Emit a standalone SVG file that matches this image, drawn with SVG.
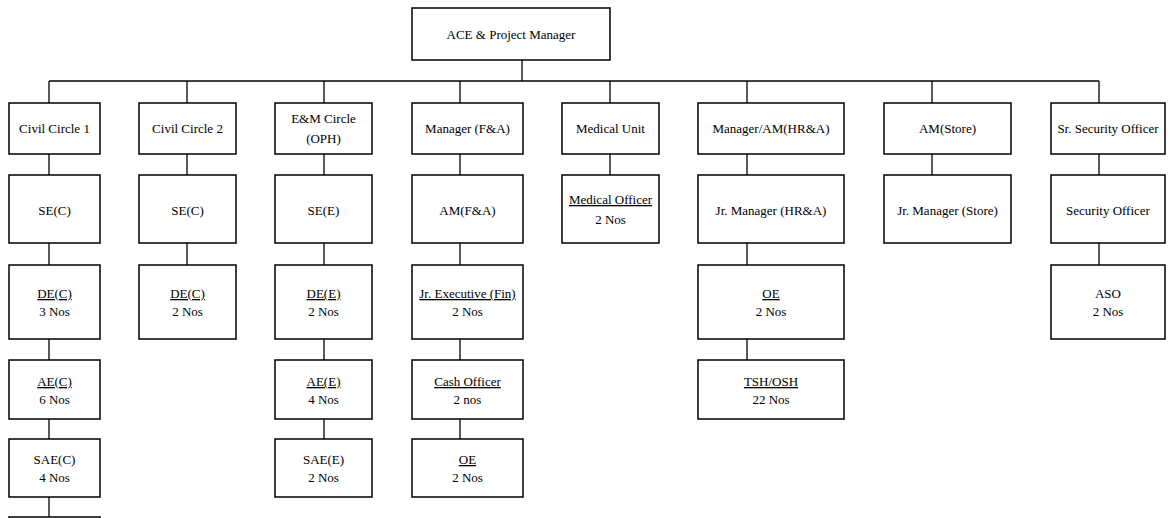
<svg xmlns="http://www.w3.org/2000/svg" width="1168" height="518" viewBox="0 0 1168 518">
<style>
rect{fill:#fff;stroke:#000;stroke-width:1.5}
#connectors line{stroke:#000;stroke-width:1.3}
text{font-family:"Liberation Serif","Times New Roman",serif;font-size:13px;fill:#000;text-anchor:middle}
.u{text-decoration:underline}
</style>
<rect x="0" y="0" width="1168" height="518" style="stroke:none"/>
<g id="connectors">
<line x1="522" y1="60" x2="522" y2="81"/>
<line x1="49" y1="81" x2="1099" y2="81"/>
<line x1="49" y1="81" x2="49" y2="103"/>
<line x1="187" y1="81" x2="187" y2="103"/>
<line x1="324" y1="81" x2="324" y2="103"/>
<line x1="460" y1="81" x2="460" y2="103"/>
<line x1="610" y1="81" x2="610" y2="103"/>
<line x1="747" y1="81" x2="747" y2="103"/>
<line x1="932" y1="81" x2="932" y2="103"/>
<line x1="1099" y1="81" x2="1099" y2="103"/>
<line x1="49" y1="154" x2="49" y2="175"/>
<line x1="187" y1="154" x2="187" y2="175"/>
<line x1="324" y1="154" x2="324" y2="175"/>
<line x1="460" y1="154" x2="460" y2="175"/>
<line x1="610" y1="154" x2="610" y2="175"/>
<line x1="747" y1="154" x2="747" y2="175"/>
<line x1="932" y1="154" x2="932" y2="175"/>
<line x1="1099" y1="154" x2="1099" y2="175"/>
<line x1="49" y1="243" x2="49" y2="265"/>
<line x1="187" y1="243" x2="187" y2="265"/>
<line x1="324" y1="243" x2="324" y2="265"/>
<line x1="460" y1="243" x2="460" y2="265"/>
<line x1="747" y1="243" x2="747" y2="265"/>
<line x1="1099" y1="243" x2="1099" y2="265"/>
<line x1="49" y1="339" x2="49" y2="360"/>
<line x1="324" y1="339" x2="324" y2="360"/>
<line x1="460" y1="339" x2="460" y2="360"/>
<line x1="747" y1="339" x2="747" y2="360"/>
<line x1="49" y1="419" x2="49" y2="439"/>
<line x1="324" y1="419" x2="324" y2="439"/>
<line x1="460" y1="419" x2="460" y2="439"/>
<line x1="49" y1="497" x2="49" y2="517"/>
</g>
<g id="ace"><rect x="412" y="8" width="198" height="52"/><text x="511" y="39">ACE &amp; Project Manager</text></g>
<g id="civil1"><rect x="9" y="103" width="91" height="51"/><text x="54.5" y="133">Civil Circle 1</text></g>
<g id="civil2"><rect x="139" y="103" width="97" height="51"/><text x="187.5" y="133">Civil Circle 2</text></g>
<g id="em"><rect x="275" y="103" width="97" height="51"/><text x="323.5" y="123">E&amp;M Circle</text><text x="323.5" y="143">(OPH)</text></g>
<g id="mgrfa"><rect x="412" y="103" width="111" height="51"/><text x="467.5" y="133">Manager (F&amp;A)</text></g>
<g id="medical"><rect x="562" y="103" width="97" height="51"/><text x="610.5" y="133">Medical Unit</text></g>
<g id="mgrhr"><rect x="698" y="103" width="146" height="51"/><text x="771" y="133">Manager/AM(HR&amp;A)</text></g>
<g id="amstore"><rect x="884" y="103" width="127" height="51"/><text x="947.5" y="133">AM(Store)</text></g>
<g id="srsec"><rect x="1051" y="103" width="114" height="51"/><text x="1108" y="133">Sr. Security Officer</text></g>
<g id="sec1"><rect x="9" y="175" width="91" height="68"/><text x="54.5" y="215">SE(C)</text></g>
<g id="sec2"><rect x="139" y="175" width="97" height="68"/><text x="187.5" y="215">SE(C)</text></g>
<g id="see"><rect x="275" y="175" width="97" height="68"/><text x="323.5" y="215">SE(E)</text></g>
<g id="amfa"><rect x="412" y="175" width="111" height="68"/><text x="467.5" y="215">AM(F&amp;A)</text></g>
<g id="medofficer"><rect x="562" y="175" width="97" height="68"/><text class="u" x="610.5" y="204">Medical Officer</text><text x="610.5" y="224">2 Nos</text></g>
<g id="jrmgrhr"><rect x="698" y="175" width="146" height="68"/><text x="771" y="215">Jr. Manager (HR&amp;A)</text></g>
<g id="jrmgrstore"><rect x="884" y="175" width="127" height="68"/><text x="947.5" y="215">Jr. Manager (Store)</text></g>
<g id="secofficer"><rect x="1051" y="175" width="114" height="68"/><text x="1108" y="215">Security Officer</text></g>
<g id="dec1"><rect x="9" y="265" width="91" height="74"/><text class="u" x="54.5" y="298">DE(C)</text><text x="54.5" y="316">3 Nos</text></g>
<g id="dec2"><rect x="139" y="265" width="97" height="74"/><text class="u" x="187.5" y="298">DE(C)</text><text x="187.5" y="316">2 Nos</text></g>
<g id="dee"><rect x="275" y="265" width="97" height="74"/><text class="u" x="323.5" y="298">DE(E)</text><text x="323.5" y="316">2 Nos</text></g>
<g id="jrexec"><rect x="412" y="265" width="111" height="74"/><text class="u" x="467.5" y="298">Jr. Executive (Fin)</text><text x="467.5" y="316">2 Nos</text></g>
<g id="oehr"><rect x="698" y="265" width="146" height="74"/><text class="u" x="771" y="298">OE</text><text x="771" y="316">2 Nos</text></g>
<g id="aso"><rect x="1051" y="265" width="114" height="74"/><text x="1108" y="298">ASO</text><text x="1108" y="316">2 Nos</text></g>
<g id="aec"><rect x="9" y="360" width="91" height="59"/><text class="u" x="54.5" y="386">AE(C)</text><text x="54.5" y="404">6 Nos</text></g>
<g id="aee"><rect x="275" y="360" width="97" height="59"/><text class="u" x="323.5" y="386">AE(E)</text><text x="323.5" y="404">4 Nos</text></g>
<g id="cash"><rect x="412" y="360" width="111" height="59"/><text class="u" x="467.5" y="386">Cash Officer</text><text x="467.5" y="404">2 nos</text></g>
<g id="tsh"><rect x="698" y="360" width="146" height="59"/><text class="u" x="771" y="386">TSH/OSH</text><text x="771" y="404">22 Nos</text></g>
<g id="saec"><rect x="9" y="439" width="91" height="58"/><text x="54.5" y="464">SAE(C)</text><text x="54.5" y="482">4 Nos</text></g>
<g id="saee"><rect x="275" y="439" width="97" height="58"/><text x="323.5" y="464">SAE(E)</text><text x="323.5" y="482">2 Nos</text></g>
<g id="oefa"><rect x="412" y="439" width="111" height="58"/><text class="u" x="467.5" y="464">OE</text><text x="467.5" y="482">2 Nos</text></g>
<g id="civil1next"><rect x="9" y="517" width="91" height="40"/></g>
</svg>
